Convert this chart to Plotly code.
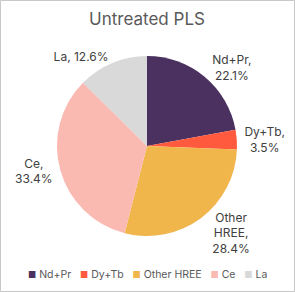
import plotly.graph_objects as go

categories = ["Nd+Pr", "Dy+Tb", "Other HREE", "Ce", "La"]
values = [22.1, 3.5, 28.4, 33.4, 12.6]
label_text = ["Nd+Pr,<br>22.1%", "Dy+Tb,<br>3.5%", "Other<br>HREE,<br>28.4%", "Ce,<br>33.4%", "La, 12.6%"]
colors = ["#4B3160", "#FF5A3D", "#F0B54B", "#FBBAB1", "#D9D9D9"]

W, H = 295, 292
mt, mb = 56, 56
ml, mr = 57, 58
ph = H - mt - mb
pw = W - ml - mr
FONT = "Inter, Roboto, sans-serif"

fig = go.Figure(go.Pie(
    labels=categories, values=values, text=label_text,
    textinfo="text", textposition="outside", sort=False,
    direction="clockwise", rotation=0,
    marker=dict(colors=colors, line=dict(width=0)),
    outsidetextfont=dict(family=FONT, size=12, color="#404040"),
    showlegend=False, hoverinfo="label+percent",
    domain=dict(x=[0, 1], y=[0, 1]),
))

legend_text = "   ".join(
    f"<span style='color:{c};font-size:9px'>■</span> {n}" for n, c in zip(categories, colors)
)

fig.update_layout(
    width=W, height=H,
    margin=dict(l=ml, r=mr, t=mt, b=mb, autoexpand=False),
    paper_bgcolor="white", plot_bgcolor="white",
    title=dict(text="Untreated PLS", x=0.5, xanchor="center", xref="paper",
               y=1 - 19 / H, yref="container", yanchor="middle",
               font=dict(family=FONT, size=17, color="#595959")),
    annotations=[dict(text=legend_text, xref="paper", yref="paper", x=0.5, xanchor="center",
                      y=-(274 - (H - mb)) / ph, yanchor="middle", showarrow=False,
                      font=dict(family=FONT, size=10.5, color="#595959"))],
    shapes=[dict(type="rect", xref="paper", yref="paper",
                 x0=-(ml - 0.5) / pw, x1=1 + (mr - 0.5) / pw,
                 y0=-(mb - 0.5) / ph, y1=1 + (mt - 0.5) / ph,
                 line=dict(color="#C8C8C8", width=1))],
)

fig.write_html("out.html")
